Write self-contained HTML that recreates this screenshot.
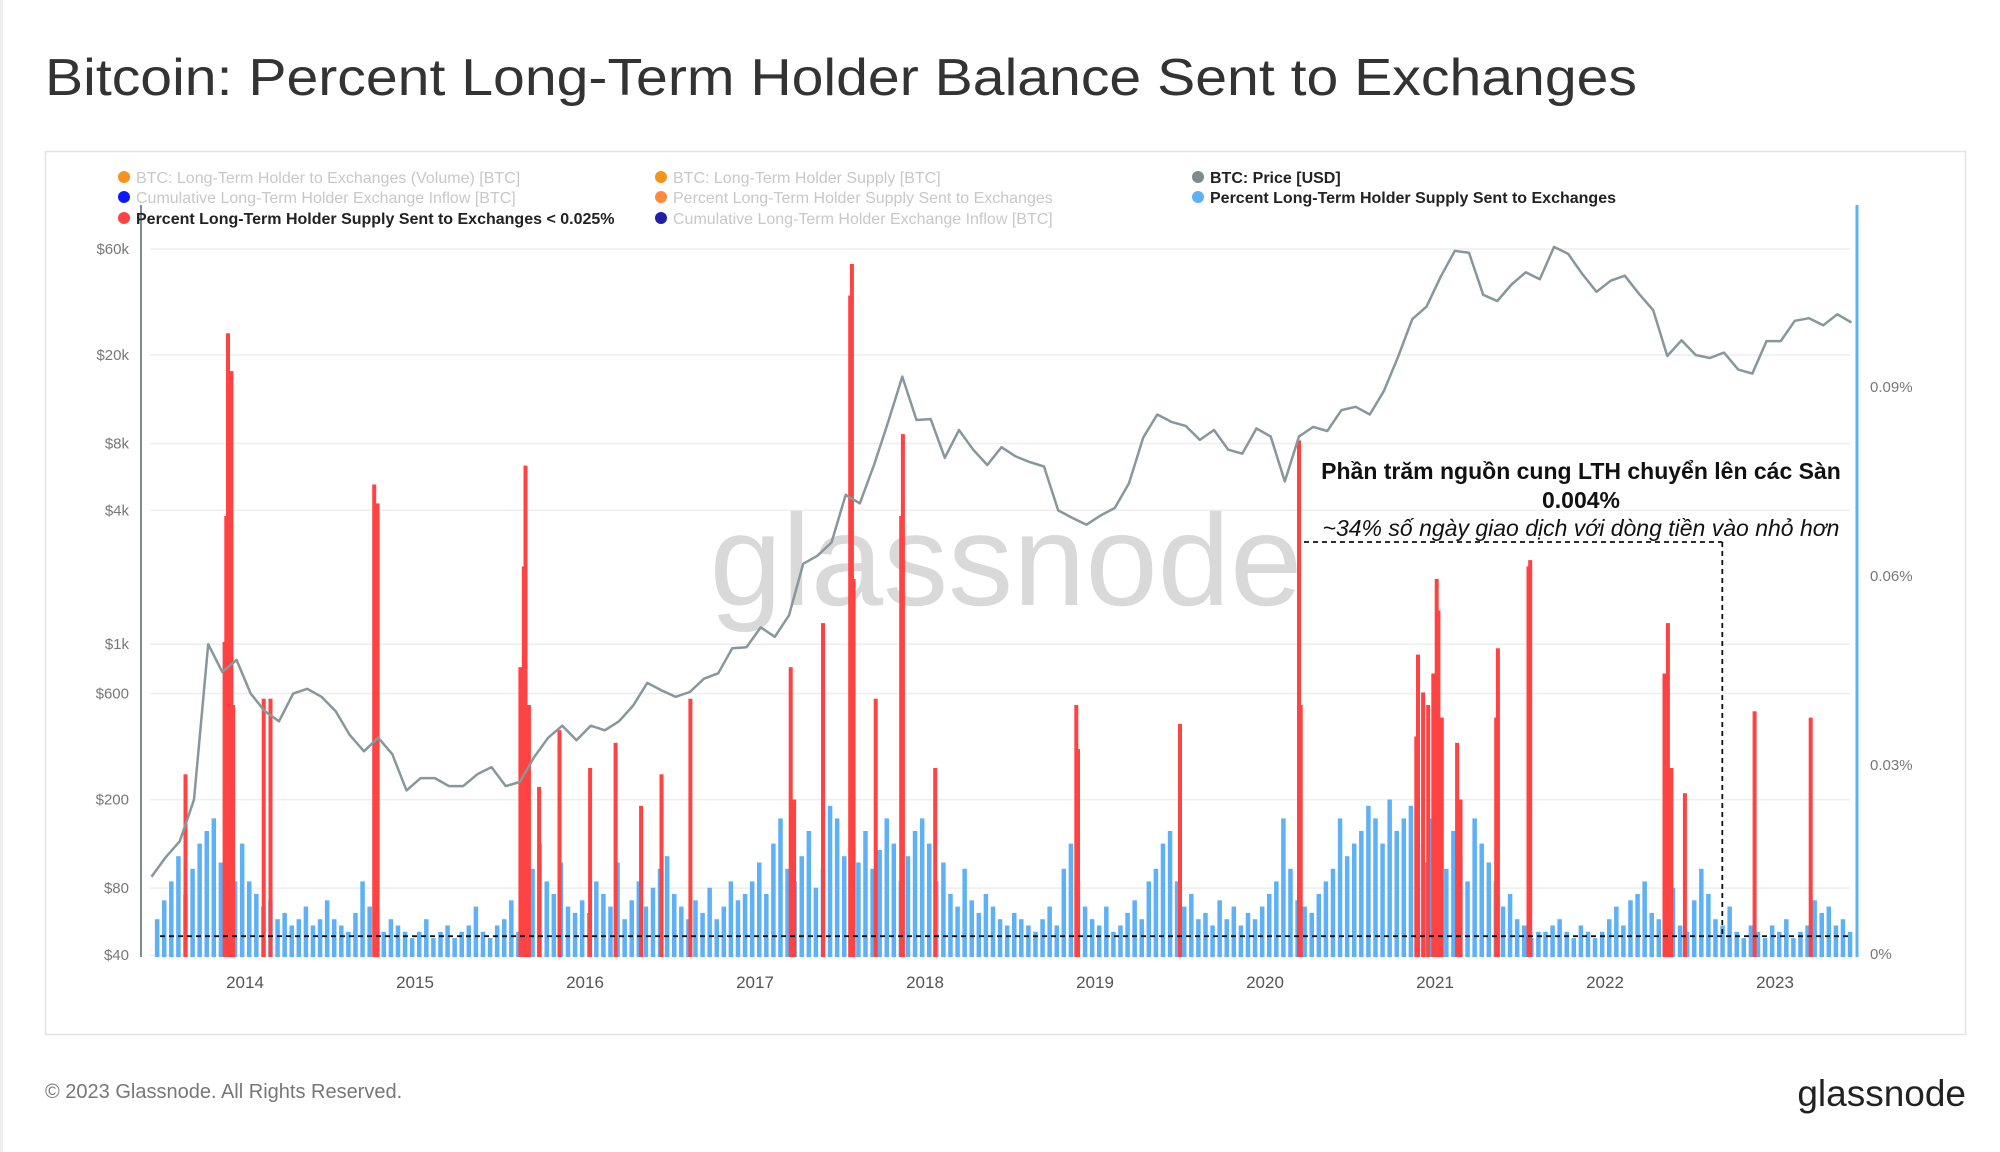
<!DOCTYPE html>
<html><head><meta charset="utf-8"><style>
html,body{margin:0;padding:0;background:#fff;}
svg{display:block;font-family:"Liberation Sans","Noto Sans CJK SC",sans-serif;}
</style></head><body>
<svg id="chart" width="2000" height="1152" viewBox="0 0 2000 1152">
<rect x="0" y="0" width="2000" height="1152" fill="#fff"/>
<rect x="0" y="0" width="3" height="1152" fill="#eee"/>
<text x="45" y="95" font-size="52" fill="#333" font-weight="500" textLength="1592" lengthAdjust="spacingAndGlyphs">Bitcoin: Percent Long-Term Holder Balance Sent to Exchanges</text>
<rect x="45.5" y="151.5" width="1920" height="883" fill="none" stroke="#e3e3e3" stroke-width="1.5"/>
<g id="grid"></g>
<text x="1006" y="605" font-size="130" fill="#d9d9d9" text-anchor="middle">glassnode</text>
<g id="blue"></g>
<g id="red"></g>
<g id="price"></g>
<g id="axes"></g>
<g id="legend"></g>
<g id="annot"></g>
<text x="45" y="1098" font-size="20" fill="#777">© 2023 Glassnode. All Rights Reserved.</text>
<text x="1966" y="1106" font-size="37" fill="#222" text-anchor="end">glassnode</text>
</svg>
<script>
const years = [2014,2015,2016,2017,2018,2019,2020,2021,2022,2023];
const priceTicks = [40,80,200,600,1000,4000,8000,20000,60000];
const priceTickLabels = ["$40","$80","$200","$600","$1k","$4k","$8k","$20k","$60k"];
const pctTicks = [0,30,60,90];
const pctTickLabels = ["0%","0.03%","0.06%","0.09%"];
// monthly BTC price starting 2013.45
const priceStart = 2013.45;
const prices = [90,110,130,200,1000,750,
850,600,500,450,600,630,580,500,390,330,380,320,
220,250,250,230,230,260,280,230,240,310,380,430,
370,430,410,450,530,670,620,580,610,700,740,960,
970,1190,1080,1350,2300,2500,2870,4700,4300,6400,10000,16000,
10200,10300,6900,9200,7500,6400,7700,7000,6600,6300,4000,3700,
3450,3800,4100,5300,8500,10800,10000,9600,8300,9200,7500,7200,
9350,8600,5400,8600,9500,9100,11300,11700,10800,13800,19700,29000,
33000,45000,58800,57700,37300,35000,41500,47100,43800,61300,57000,46300,
38500,43200,45500,37700,31800,19800,23300,20000,19400,20500,17200,16500,
23100,23100,28500,29300,27200,30500,28000];
// semi-monthly percent (units of 0.001%) starting 2013.47
const blueStart = 2013.47;
const blueVals = [6,9,12,16,10,14,18,20,22,15,14,12,
18,12,10,8,9,6,7,5,6,8,5,6,9,6,5,4,7,12,8,5,4,6,5,4,
3,4,6,3,4,5,3,4,5,8,4,3,5,6,9,4,10,14,18,12,10,15,8,7,
9,7,12,10,8,15,6,9,12,8,11,14,16,10,8,6,9,7,11,6,8,12,9,10,
12,15,10,18,22,14,12,16,20,11,14,24,22,16,12,15,20,14,17,22,18,12,16,20,
22,18,12,15,10,8,14,9,7,10,8,6,5,7,6,5,4,6,8,5,14,18,12,8,
6,5,8,4,5,7,9,6,12,14,18,20,12,8,10,6,7,5,9,6,8,5,7,6,
8,10,12,22,14,9,8,7,10,12,14,22,16,18,20,24,22,18,25,20,22,24,18,15,
22,18,14,20,16,12,22,18,15,12,8,10,6,5,3,4,4,5,6,4,3,5,4,3,
4,6,8,5,9,10,12,7,6,8,11,5,4,9,14,10,6,5,8,4,3,5,4,3,
5,4,6,3,4,5,9,7,8,5,6,4];
const redDates = [2013.65,2013.88,2013.89,2013.90,2013.92,2013.93,2014.11,2014.15,2014.76,2014.78,2015.62,2015.64,2015.65,2015.67,2015.73,2015.85,2016.03,2016.18,2016.33,2016.45,2016.62,2017.21,2017.23,2017.40,2017.56,2017.57,2017.58,2017.71,2017.86,2017.87,2018.06,2018.89,2018.90,2019.50,2020.20,2020.21,2020.89,2020.90,2020.93,2020.96,2020.99,2021.01,2021.02,2021.04,2021.13,2021.15,2021.36,2021.37,2021.55,2021.56,2022.35,2022.37,2022.39,2022.47,2022.88,2023.21];
const redVals = [29,50,70,99,93,40,41,41,75,72,46,62,78,40,27,36,30,34,24,29,41,46,25,53,105,110,60,41,70,83,30,40,33,37,82,40,35,48,42,40,45,60,55,38,34,25,38,49,62,63,45,53,30,26,39,38];
const thresholdVal = 3.3;

const NS = "http://www.w3.org/2000/svg";
const X0 = 141, X1 = 1857, BASE = 957;
function xScale(t){ return 245 + (t - 2014) * 170.0; }
function yPct(v){ return BASE - v / 30 * 189; }
function yPrice(p){ return 955 - Math.log10(p / 40) * 222.3; }
function mk(tag, attrs, parent){ const e = document.createElementNS(NS, tag); for (const k in attrs) e.setAttribute(k, attrs[k]); parent.appendChild(e); return e; }

const grid = document.getElementById('grid');
priceTicks.forEach(function(p){
  const g = mk('line', {x1:150, x2:1850, y1:yPrice(p), y2:yPrice(p), stroke:'#eeeeee', 'stroke-width':1.5}, grid);
  
  
});

const blue = document.getElementById('blue');
blueVals.forEach(function(v, i){
  const t = blueStart + i / 24;
  const x = xScale(t);
  const r = mk('rect', {x:x, y:yPct(v), width:4.5, height:BASE - yPct(v), fill:'#5eb0f7'}, blue);
  
  
});

const red = document.getElementById('red');
redDates.forEach(function(d, i){
  const r = mk('rect', {x:xScale(d) - 2, y:yPct(redVals[i]), width:4, height:BASE - yPct(redVals[i]), fill:'#ff4242'}, red);
  
  
});

const pts = prices.map(function(p, i){ return xScale(priceStart + i / 12).toFixed(1) + ',' + yPrice(p).toFixed(1); });
const pl = mk('polyline', {points:pts.join(' '), fill:'none', stroke:'#87979a', 'stroke-width':2.5, 'stroke-linejoin':'round'}, document.getElementById('price'));



const axes = document.getElementById('axes');
const la = mk('line', {x1:X0, x2:X0, y1:205, y2:BASE, stroke:'#7f8c8d', 'stroke-width':2}, axes);


const ra = mk('line', {x1:X1, x2:X1, y1:205, y2:BASE, stroke:'#5eb0f7', 'stroke-width':3}, axes);


priceTicks.forEach(function(p, i){
  const t = mk('text', {x:129, y:yPrice(p) + 5, 'font-size':15, fill:'#777', 'text-anchor':'end'}, axes);
  t.textContent = priceTickLabels[i];
  
  
});
pctTicks.forEach(function(v, i){
  const t = mk('text', {x:1870, y:yPct(v) + 2, 'font-size':15, fill:'#777'}, axes);
  t.textContent = pctTickLabels[i];
  
  
});
years.forEach(function(y){
  const t = mk('text', {x:xScale(y), y:988, 'font-size':17, fill:'#555', 'text-anchor':'middle'}, axes);
  t.textContent = String(y);
  
  
});

const legendItems = [
  [118,177,'#f7931a','BTC: Long-Term Holder to Exchanges (Volume) [BTC]',false],
  [118,197,'#0a1aff','Cumulative Long-Term Holder Exchange Inflow [BTC]',false],
  [118,218,'#ff4242','Percent Long-Term Holder Supply Sent to Exchanges < 0.025%',true],
  [655,177,'#f7931a','BTC: Long-Term Holder Supply [BTC]',false],
  [655,197,'#ff8a3d','Percent Long-Term Holder Supply Sent to Exchanges',false],
  [655,218,'#1f1fa8','Cumulative Long-Term Holder Exchange Inflow [BTC]',false],
  [1192,177,'#7f8c8d','BTC: Price [USD]',true],
  [1192,197,'#5eb0f7','Percent Long-Term Holder Supply Sent to Exchanges',true]
];
const legend = document.getElementById('legend');
legendItems.forEach(function(it){
  const g = mk('g', {}, legend);
  
  
  mk('circle', {cx:it[0] + 6, cy:it[1], r:6, fill:it[2]}, g);
  const t = mk('text', {x:it[0] + 18, y:it[1] + 6, 'font-size':16, fill:it[4] ? '#222' : '#c8c8c8', 'font-weight':it[4] ? 'bold' : 'normal'}, g);
  t.textContent = it[3];
});

const an = document.getElementById('annot');
const thY = yPct(thresholdVal);
const l1 = mk('line', {x1:xScale(2013.5), x2:xScale(2023.45), y1:thY, y2:thY, stroke:'#111', 'stroke-width':1.8, 'stroke-dasharray':'5,4'}, an);


const bx = xScale(2022.69);
const l2 = mk('line', {x1:1304, x2:bx, y1:542, y2:542, stroke:'#111', 'stroke-width':1.8, 'stroke-dasharray':'5,4'}, an);


const l3 = mk('line', {x1:bx, x2:bx, y1:542, y2:thY, stroke:'#111', 'stroke-width':1.8, 'stroke-dasharray':'5,4'}, an);


const a1 = mk('text', {x:1581, y:479, 'font-size':23, 'font-weight':'bold', fill:'#111', 'text-anchor':'middle'}, an);
a1.textContent = 'Phần trăm nguồn cung LTH chuyển lên các Sàn';


const a2 = mk('text', {x:1581, y:508, 'font-size':23, 'font-weight':'bold', fill:'#111', 'text-anchor':'middle'}, an);
a2.textContent = '0.004%';


const a3 = mk('text', {x:1581, y:536, 'font-size':23, 'font-style':'italic', fill:'#111', 'text-anchor':'middle'}, an);
a3.textContent = '~34% số ngày giao dịch với dòng tiền vào nhỏ hơn';


</script>
</body></html>
